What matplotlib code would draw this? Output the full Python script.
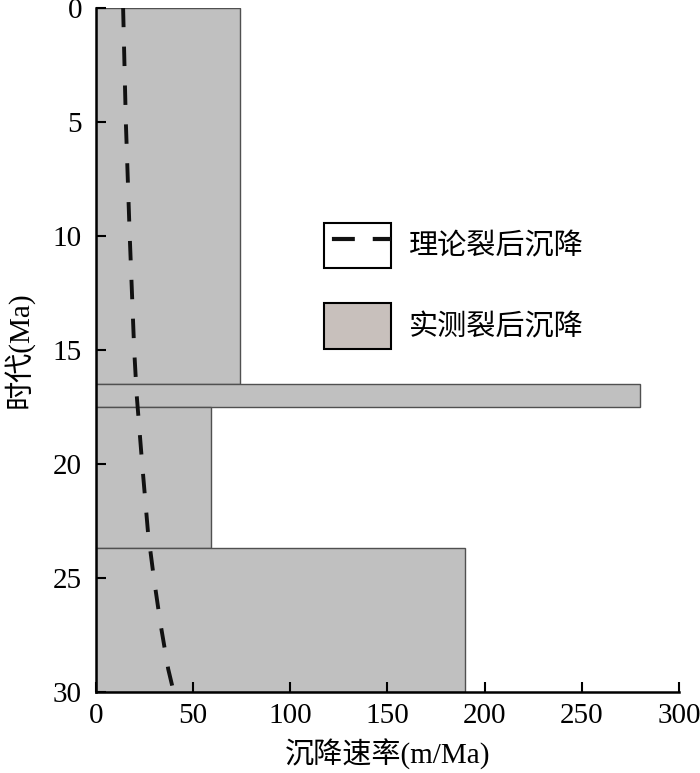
import matplotlib.pyplot as plt
from matplotlib.patches import Patch
from matplotlib.lines import Line2D
from matplotlib.legend_handler import HandlerTuple

# measured subsidence rate per interval (Ma)
age_top = [0, 16.5, 17.5, 23.7]
age_base = [16.5, 17.5, 23.7, 30]
rate_obs = [74, 280, 59, 190]

# theoretical post-rift subsidence curve
age_theory = [0, 5, 10, 15, 17, 20, 23, 25, 27, 29, 30]
rate_theory = [14, 15.4, 17.4, 19.7, 21, 23.8, 26.8, 29.8, 33.2, 37.2, 40]

xticks = [0, 50, 100, 150, 200, 250, 300]
yticks = [0, 5, 10, 15, 20, 25, 30]

fonts = ['Liberation Serif', 'Noto Sans CJK SC']
plt.rcParams['font.family'] = fonts
plt.rcParams['font.size'] = 21

fig = plt.figure(figsize=(7, 7.73), dpi=100)
ax = fig.add_axes([0.137, 0.105, 0.833, 0.885])

heights = [b - t for t, b in zip(age_top, age_base)]
ax.barh(age_top, rate_obs, height=heights, left=0, align='edge',
        color='#c0c0c0', edgecolor='#505050', linewidth=1.0, zorder=1)
ax.plot(rate_theory, age_theory, color='#111111', lw=2.8,
        dashes=(5, 5), zorder=3)

ax.set_xlim(0, 300)
ax.set_ylim(30, 0)
ax.set_xticks(xticks)
ax.set_yticks(yticks)
ax.tick_params(direction='in', length=7, width=1.5, labelsize=21)
ax.tick_params(axis='y', pad=10)
ax.tick_params(axis='x', pad=8)
for s in ['top', 'right']:
    ax.spines[s].set_visible(False)
for s in ['left', 'bottom']:
    ax.spines[s].set_linewidth(1.8)
    ax.spines[s].set_zorder(4)

ax.set_xlabel('沉降速率(m/Ma)', fontsize=21, labelpad=7)
ax.set_ylabel('时代(Ma)', fontsize=21, labelpad=14)

h_line = (Patch(facecolor='white', edgecolor='black', linewidth=1.5),
          Line2D([], [], color='#111111', lw=3, linestyle=(7.9, (5.5, 4.3))))
h_box = Patch(facecolor='#c8c0bc', edgecolor='black', linewidth=1.5)
ax.legend([h_line, h_box], ['理论裂后沉降', '实测裂后沉降'],
          handler_map={tuple: HandlerTuple(ndivide=1)},
          loc='upper left', bbox_to_anchor=(0.346, 0.724),
          frameon=False, handlelength=2.3, handleheight=2.03,
          labelspacing=1.2, handletextpad=0.6, fontsize=21)

plt.savefig('out.png', dpi=100)
